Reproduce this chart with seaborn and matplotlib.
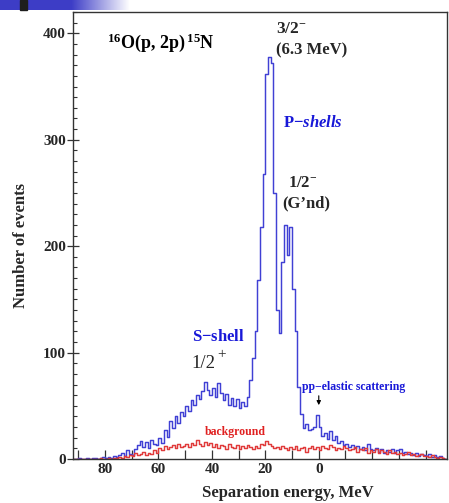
import numpy as np
import pandas as pd
import matplotlib
matplotlib.use("Agg")
import matplotlib.pyplot as plt
from matplotlib.ticker import FixedLocator, MultipleLocator
from matplotlib.patches import Rectangle
import seaborn as sns

# ---------------- data (1 MeV bins, lower edge from 91 down to -48) ----------------
bin_low = list(range(91, -49, -1))

signal_counts = [
    0, 0, 1, 0, 0, 1, 0, 1, 1, 0,            # 91..82
    1, 2, 1, 2, 1, 3, 2, 4, 6, 3,            # 81..72
    8, 5, 4, 9, 13, 17, 11, 16, 10, 18,      # 71..62
    14, 13, 20, 15, 27, 21, 36, 29, 40, 34,  # 61..52
    44, 40, 50, 45, 55, 51, 60, 56, 64, 72,  # 51..42
    65, 60, 67, 58, 71, 62, 55, 61, 51, 57,  # 41..32
    50, 56, 48, 54, 50, 58, 74, 95, 120, 168,        # 31..22
    218, 268, 362, 378, 372, 250, 140, 118, 185, 220,  # 21..12
    192, 218, 160, 120, 68, 42, 29, 33, 27, 28,      # 11..2
    30, 41, 30, 22, 24, 19, 26, 18, 22, 15,  # 1..-8
    17, 13, 14, 11, 13, 10, 12, 9, 11, 8,    # -9..-18
    14, 9, 8, 10, 7, 9, 6, 8, 7, 9,          # -19..-28
    6, 8, 9, 6, 7, 5, 6, 4, 6, 3,            # -29..-38
    5, 4, 3, 5, 2, 4, 2, 3, 1, 0,            # -39..-48
]

background_counts = [
    0, 0, 0, 0, 0, 0, 0, 0, 0, 0,            # 91..82
    1, 0, 0, 1, 0, 1, 1, 2, 1, 3,            # 81..72
    2, 4, 3, 6, 4, 5, 7, 4, 6, 5,            # 71..62
    8, 6, 10, 8, 12, 9, 11, 13, 10, 14,      # 61..52
    11, 12, 14, 11, 15, 13, 18, 14, 12, 16,  # 51..42
    13, 15, 11, 14, 10, 13, 12, 9, 14, 11,   # 41..32
    10, 13, 9, 12, 10, 13, 11, 9, 12, 10,    # 31..22
    14, 13, 17, 14, 12, 10, 11, 9, 12, 10,   # 21..12
    8, 11, 9, 12, 8, 10, 11, 7, 10, 12,      # 11..2
    9, 11, 8, 12, 10, 9, 13, 11, 8, 10,      # 1..-8
    9, 12, 10, 8, 9, 11, 7, 9, 8, 10,        # -9..-18
    6, 8, 7, 9, 6, 8, 7, 5, 8, 6,            # -19..-28
    7, 5, 6, 4, 5, 7, 4, 5, 3, 4,            # -29..-38
    5, 3, 3, 2, 4, 2, 1, 2, 1, 0,            # -39..-48
]

x_tick_values = [80, 60, 40, 20, 0]
y_tick_values = [0, 100, 200, 300, 400]

# ---------------- table for seaborn ----------------
centers = [b + 0.5 for b in bin_low]
df = pd.concat([
    pd.DataFrame({"energy": centers, "counts": signal_counts, "series": "signal"}),
    pd.DataFrame({"energy": centers, "counts": background_counts, "series": "background"}),
], ignore_index=True)
edges = [float(b) for b in bin_low[::-1]] + [float(bin_low[0] + 1)]

# ---------------- style ----------------
sns.set_theme(style="ticks")
plt.rcParams["font.family"] = ["Liberation Serif", "DejaVu Serif"]
plt.rcParams["mathtext.fontset"] = "custom"
plt.rcParams["mathtext.rm"] = "Liberation Serif:bold"
plt.rcParams["mathtext.bf"] = "Liberation Serif:bold"
plt.rcParams["mathtext.it"] = "Liberation Serif:italic:bold"

BLUE_LINE = "#4040d4"
RED_LINE = "#e03a3a"
TEXT_BLUE = "#1818d8"
TEXT_RED = "#e02020"

fig = plt.figure(figsize=(4.49, 5.03), dpi=100)
fig.patch.set_facecolor("white")
ax = fig.add_axes([73 / 449, 1 - 459 / 503, (447 - 73) / 449, (459 - 12) / 503])

sns.histplot(
    data=df, x="energy", weights="counts", hue="series", bins=edges,
    element="step", fill=False, stat="count",
    palette={"signal": BLUE_LINE, "background": RED_LINE},
    hue_order=["background", "signal"],
    linewidth=1.05, legend=False, ax=ax,
)

ax.set_xlim(92, -48)
ax.set_ylim(0, 420)

# ticks
ax.xaxis.set_major_locator(FixedLocator(x_tick_values))
ax.xaxis.set_minor_locator(MultipleLocator(10))
ax.yaxis.set_major_locator(FixedLocator(y_tick_values))
ax.yaxis.set_minor_locator(MultipleLocator(10))
ax.tick_params(axis="x", which="both", direction="in", length=6.5, width=0.9,
               color="#333333", pad=3, labelsize=11)
ax.tick_params(axis="y", which="major", direction="inout", length=8, width=0.9,
               color="#333333", pad=1, labelsize=11)
ax.tick_params(axis="y", which="minor", direction="in", length=3, width=0.8,
               color="#333333")
for lbl in ax.get_xticklabels() + ax.get_yticklabels():
    lbl.set_fontweight("bold")

for sp in ax.spines.values():
    sp.set_visible(True)
    sp.set_linewidth(1.0)
    sp.set_color("#333333")

ax.set_xlabel("Separation energy, MeV", fontsize=12, fontweight="bold", va="center")
ax.xaxis.set_label_coords(0.575, -0.076)
ax.set_ylabel("Number of events", fontsize=12, fontweight="bold", va="center")
ax.yaxis.set_label_coords(-0.14, 0.477)

# ---------------- annotations ----------------
ax.text(79.4, 391, r"${}^{16}$O(p, 2p)$\,{}^{15}$N", fontsize=13, fontweight="bold",
        va="center", ha="left", color="black")
ax.text(16.1, 404, r"3/2$^{-}$", fontsize=12.5, fontweight="bold", va="center", ha="left")
ax.text(16.1, 384, "(6.3 MeV)", fontsize=12, fontweight="bold", va="center", ha="left")
ax.text(13.5, 316, r"P$-$$\mathit{shells}$", fontsize=12, fontweight="bold",
        color=TEXT_BLUE, va="center", ha="left")
ax.text(11.6, 259, r"1/2$^{-}$", fontsize=12, fontweight="bold", va="center", ha="left")
ax.text(13.5, 240, "(G\u2019nd)", fontsize=12, fontweight="bold", va="center", ha="left")
ax.text(47.6, 115, r"S$-$shell", fontsize=12, fontweight="bold", color=TEXT_BLUE,
        va="center", ha="left")
ax.text(47.6, 90, "1/2", fontsize=13.5, fontweight="normal", va="center", ha="left")
ax.text(38.0, 98.5, "+", fontsize=11, fontweight="normal", va="center", ha="left")
ax.text(6.3, 68, "pp\u2212elastic scattering", fontsize=8.5, fontweight="bold",
        color=TEXT_BLUE, va="center", ha="left")
ax.annotate("", xy=(0, 48), xytext=(0, 62),
            arrowprops=dict(arrowstyle="-|>", color="black", lw=0.8, mutation_scale=6))
ax.text(42.7, 25, "background", fontsize=8.5, fontweight="bold", color=TEXT_RED,
        va="center", ha="left")

# ---------------- slide decoration (top-left gradient bar) ----------------
dec = fig.add_axes([0, 1 - 10 / 503, 130 / 449, 10 / 503])
grad_pos = np.linspace(0, 1, 260)
fade = np.clip((grad_pos - 0.55) / 0.45, 0, 1)
base = np.array([0.24, 0.24, 0.78])
rgb = base[None, :] * (1 - fade[:, None]) + fade[:, None] * 1.0
dec.imshow(rgb[None, :, :], aspect="auto", extent=(0, 1, 0, 1))
dec.set_axis_off()
fig.add_artist(Rectangle((20 / 449, 1 - 10 / 503), 7 / 449, 10 / 503,
                         transform=fig.transFigure, color="#1e1e1e", zorder=5))

fig.savefig("out.png", dpi=100, facecolor="white")
